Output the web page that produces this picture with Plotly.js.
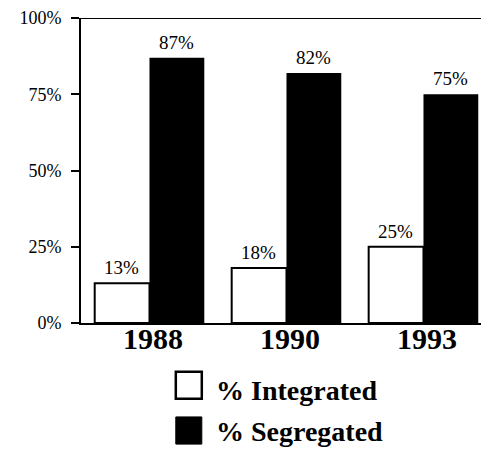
<!DOCTYPE html>
<html>
<head>
<meta charset="utf-8">
<script src="https://cdn.plot.ly/plotly-3.0.1.min.js"></script>
<style>html,body{margin:0;padding:0;background:#fff;}#chart{width:481px;height:450px;}</style>
</head>
<body>
<div id="chart"></div>
<script>
const years = ['1988', '1990', '1993'];
const integrated = [13, 18, 25];
const segregated = [87, 82, 75];
const seriesNames = ['% Integrated', '% Segregated'];
const yTickVals = [0, 25, 50, 75, 100];
const yTickText = ['0%', '25%', '50%', '75%', '100%'];

const times = 'Liberation Serif, Times New Roman, serif';

const traces = [
  {type: 'bar', x: years, y: integrated, name: seriesNames[0],
   marker: {color: '#ffffff', line: {color: '#000', width: 2}}, hoverinfo: 'none'},
  {type: 'bar', x: years, y: segregated, name: seriesNames[1],
   marker: {color: '#000000', line: {color: '#000', width: 0}}, hoverinfo: 'none'}
];

const annotations = [];
years.forEach((yr, i) => {
  annotations.push({x: i, y: integrated[i], xref: 'x', yref: 'y', text: integrated[i] + '%',
    showarrow: false, xshift: -27.5, yanchor: 'bottom', yshift: 3,
    font: {family: times, size: 19, color: '#000'}});
  annotations.push({x: i, y: segregated[i], xref: 'x', yref: 'y', text: segregated[i] + '%',
    showarrow: false, xshift: 27.5, yanchor: 'bottom', yshift: 3,
    font: {family: times, size: 19, color: '#000'}});
  annotations.push({x: i, y: 0, xref: 'x', yref: 'y', text: yr,
    showarrow: false, xshift: 4, yanchor: 'top', yshift: 3,
    font: {family: times, size: 30, color: '#000', weight: 'bold'}});
});
annotations.push({x: 0.3325, y: -0.22, xref: 'paper', yref: 'paper', text: seriesNames[0],
  showarrow: false, xanchor: 'left', yanchor: 'middle',
  font: {family: times, size: 28, color: '#000', weight: 'bold'}});
annotations.push({x: 0.3325, y: -0.355, xref: 'paper', yref: 'paper', text: seriesNames[1],
  showarrow: false, xanchor: 'left', yanchor: 'middle',
  font: {family: times, size: 28, color: '#000', weight: 'bold'}});

const shapes = [
  {type: 'line', xref: 'paper', yref: 'y', x0: 0, x1: 1, y0: 100, y1: 100, line: {color: '#000', width: 2}},
  {type: 'rect', xref: 'paper', yref: 'paper', x0: 0.237, x1: 0.302, y0: -0.248, y1: -0.16,
   line: {color: '#000', width: 2.5}, fillcolor: '#fff'},
  {type: 'rect', xref: 'paper', yref: 'paper', x0: 0.237, x1: 0.302, y0: -0.397, y1: -0.308,
   line: {color: '#000', width: 1}, fillcolor: '#000'}
];

const layout = {
  width: 481, height: 450,
  margin: {l: 81, r: 0, t: 18, b: 127},
  paper_bgcolor: '#fff', plot_bgcolor: '#fff',
  showlegend: false,
  barmode: 'group', bargap: 0.2, bargroupgap: 0,
  xaxis: {type: 'category', range: [-0.5, 2.42], showline: true, linecolor: '#000', linewidth: 2,
    ticks: '', showticklabels: false, showgrid: false, zeroline: false, fixedrange: true},
  yaxis: {range: [0, 100], tickvals: yTickVals, ticktext: yTickText, showline: true,
    linecolor: '#000', linewidth: 2, ticks: 'outside', ticklen: 8, tickwidth: 2, tickcolor: '#000',
    ticklabelstandoff: 6,
    showgrid: false, zeroline: false, fixedrange: true,
    tickfont: {family: times, size: 18, color: '#000'}},
  annotations: annotations,
  shapes: shapes
};

Plotly.newPlot('chart', traces, layout, {displayModeBar: false, staticPlot: true});
</script>
</body>
</html>
